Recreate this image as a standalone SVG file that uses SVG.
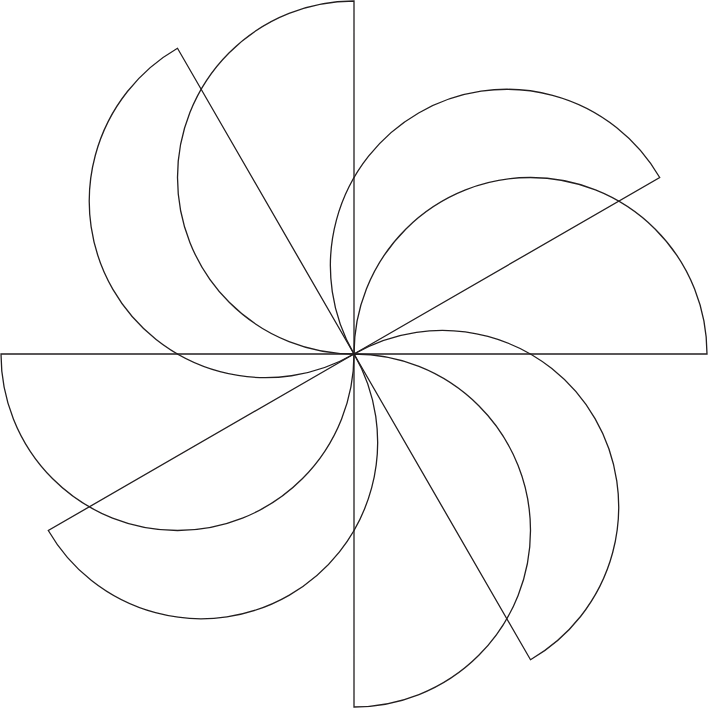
<svg xmlns="http://www.w3.org/2000/svg" width="708" height="708" viewBox="0 0 708 708">
<style>
.p{fill:none;stroke:#231f20;stroke-width:1.3;stroke-linejoin:miter}
</style>
<rect width="708" height="708" fill="#ffffff"/>
<g id="blade-0"><path class="p" d="M354 354 L707 354 A176.5 176.5 0 0 0 354 354 Z"/></g>
<g id="blade-30"><path class="p" d="M354 354 L659.707 177.5 A176.5 176.5 0 0 0 354 354 Z"/></g>
<g id="blade-90"><path class="p" d="M354 354 L354 1 A176.5 176.5 0 0 0 354 354 Z"/></g>
<g id="blade-120"><path class="p" d="M354 354 L177.5 48.293 A176.5 176.5 0 0 0 354 354 Z"/></g>
<g id="blade-180"><path class="p" d="M354 354 L1 354 A176.5 176.5 0 0 0 354 354 Z"/></g>
<g id="blade-210"><path class="p" d="M354 354 L48.293 530.5 A176.5 176.5 0 0 0 354 354 Z"/></g>
<g id="blade-270"><path class="p" d="M354 354 L354 707 A176.5 176.5 0 0 0 354 354 Z"/></g>
<g id="blade-300"><path class="p" d="M354 354 L530.5 659.707 A176.5 176.5 0 0 0 354 354 Z"/></g>
</svg>
